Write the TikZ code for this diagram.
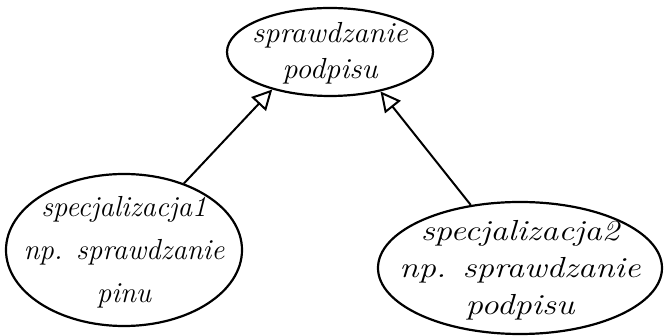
\documentclass[tikz,border=0pt]{standalone}
\usetikzlibrary{arrows.meta,shapes.geometric}
\begin{document}
\begin{tikzpicture}[x=1pt,y=-1pt,
  usecase/.style={draw, line width=2.2pt, ellipse, inner sep=0pt},
  casetext/.style={align=center, inner sep=0pt, transform shape,
    font=\fontsize{29}{#1}\selectfont\itshape},
  generalize/.style={line width=2pt, -{Triangle[open, length=20pt, width=20pt, line width=2pt]}}]
\useasboundingbox (0,0) rectangle (665,336);
% base use case and its two specialisations
\node[usecase, minimum width=206pt, minimum height=88pt,
  label={[casetext=36, xscale=1.05, yshift=-1pt]center:sprawdzanie\\podpisu}] (base) at (330,52) {};
\node[usecase, minimum width=236pt, minimum height=152pt,
  label={[casetext=43, yshift=-2pt]center:specjalizacja1\\np. sprawdzanie\\pinu}] (spec1) at (124,250) {};
\node[usecase, minimum width=284pt, minimum height=132pt,
  label={[casetext=37, xscale=1.2, yshift=-2pt]center:specjalizacja2\\np. sprawdzanie\\podpisu}] (spec2) at (520,268) {};
% generalisation arrows
\draw[generalize] (spec1.48) -- (base.213);
\draw[generalize] (spec2.128) -- (base.322);
\end{tikzpicture}
\end{document}
